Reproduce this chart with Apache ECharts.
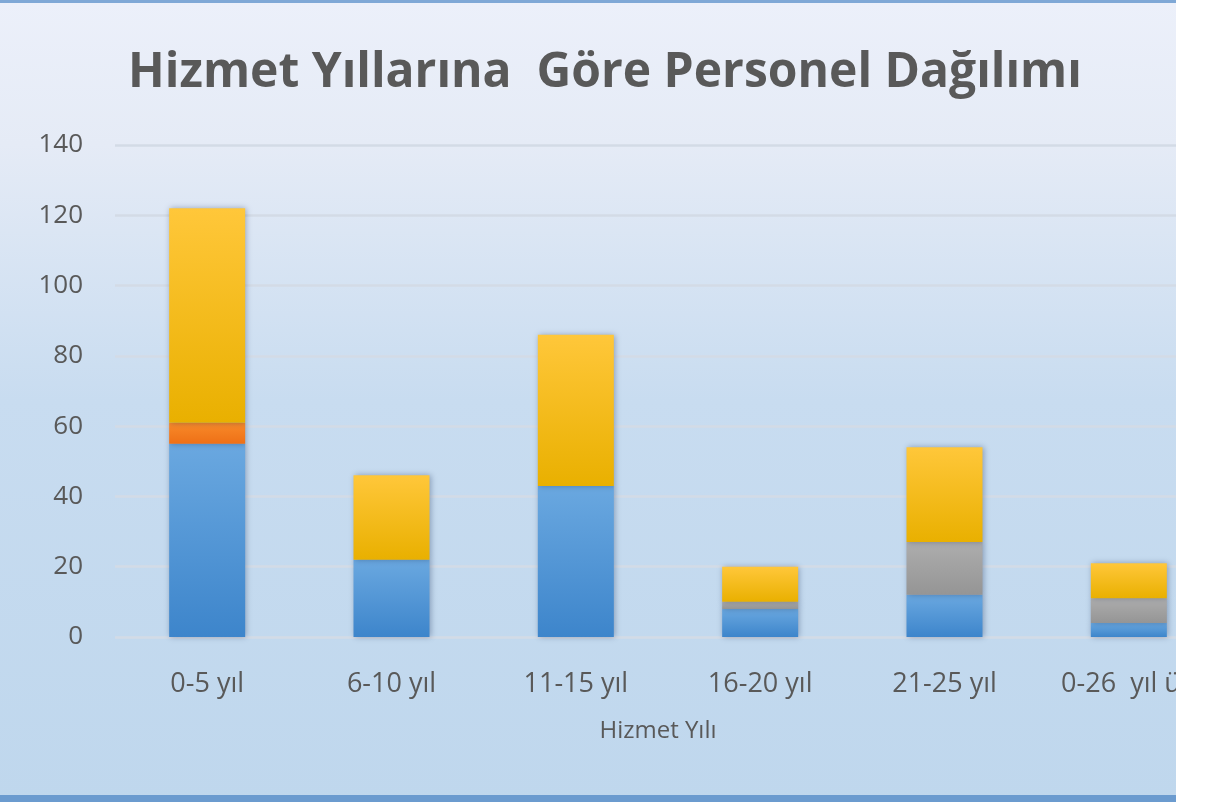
<!DOCTYPE html>
<html>
<head>
<meta charset="utf-8">
<script src="https://cdn.jsdelivr.net/npm/echarts@6/dist/echarts.min.js"></script>
<style>
html,body{margin:0;padding:0;background:#ffffff;}
#chart{width:1219px;height:802px;}
</style>
</head>
<body>
<div id="chart"></div>
<script>
var titleText = 'Hizmet Yıllarına  Göre Personel Dağılımı';
var axisName = 'Hizmet Yılı';
var categories = ['0-5 yıl', '6-10 yıl', '11-15 yıl', '16-20 yıl', '21-25 yıl', '0-26  yıl üzeri'];
var yTicks = [0, 20, 40, 60, 80, 100, 120, 140];
var seriesBlue = [55, 22, 43, 8, 12, 4];
var seriesOrange = [6, 0, 0, 0, 0, 0];
var seriesGray = [0, 0, 0, 2, 15, 7];
var seriesYellow = [61, 24, 43, 10, 27, 10];

var chart = echarts.init(document.getElementById('chart'), null, {renderer: 'canvas'});
var FONT = '"Open Sans", "Noto Sans", sans-serif';
function grad(top, bottom) {
  return new echarts.graphic.LinearGradient(0, 0, 0, 1, [
    {offset: 0, color: top}, {offset: 1, color: bottom}
  ]);
}
var shadow = {shadowBlur: 6, shadowColor: 'rgba(20,40,80,0.35)', shadowOffsetX: 1, shadowOffsetY: 0};
function mk(name, data, top, bottom) {
  return {
    name: name, type: 'bar', stack: 'total', data: data, barWidth: 76,
    itemStyle: Object.assign({color: grad(top, bottom)}, shadow),
    emphasis: {disabled: true}
  };
}
var catData = categories.map(function (c, i) {
  return i === categories.length - 1 ? {value: c, textStyle: {padding: [0, 0, 0, 30]}} : c;
});
var option = {
  animation: false,
  backgroundColor: new echarts.graphic.LinearGradient(0, 0, 0, 1, [
    {offset: 0, color: '#ecf0fa'},
    {offset: 0.18, color: '#e5ebf6'},
    {offset: 0.5, color: '#c8dcf0'},
    {offset: 1, color: '#bfd7ed'}
  ]),
  title: {
    text: titleText, left: 600, top: 44, textAlign: 'center',
    textStyle: {fontFamily: FONT, fontWeight: 'bold', fontSize: 48, color: '#595959'}
  },
  grid: {left: 115, right: -2, top: 145, bottom: 165, containLabel: false, outerBoundsMode: 'none'},
  xAxis: {
    type: 'category', data: catData,
    name: axisName, nameLocation: 'middle', nameGap: 82,
    nameTextStyle: {fontFamily: FONT, fontSize: 24, color: '#595959', padding: [0, 20, 0, 0]},
    axisLine: {show: false}, axisTick: {show: false},
    axisLabel: {fontFamily: FONT, fontSize: 27, color: '#595959', margin: 34, interval: 0, hideOverlap: false}
  },
  yAxis: {
    type: 'value', min: yTicks[0], max: yTicks[yTicks.length - 1], interval: 20,
    axisLine: {show: false}, axisTick: {show: false},
    axisLabel: {fontFamily: FONT, fontSize: 26, color: '#595959', margin: 32},
    splitLine: {lineStyle: {color: '#d3dbe6', width: 2.5}}
  },
  series: [
    mk('Mavi', seriesBlue, '#6aa8e0', '#3d85cb'),
    mk('Turuncu', seriesOrange, '#f88a2a', '#ee7016'),
    mk('Gri', seriesGray, '#adadad', '#959595'),
    mk('Sarı', seriesYellow, '#ffc73a', '#e9b000')
  ],
  graphic: [
    {type: 'rect', left: 0, top: 0, shape: {width: 1219, height: 3}, style: {fill: '#7fa8d6'}, z: 100},
    {type: 'rect', left: 0, top: 795, shape: {width: 1219, height: 7}, style: {fill: '#6b9bcf'}, z: 100},
    {type: 'rect', left: 1176, top: 0, shape: {width: 43, height: 802}, style: {fill: '#ffffff'}, z: 101}
  ]
};
chart.setOption(option);
</script>
</body>
</html>
